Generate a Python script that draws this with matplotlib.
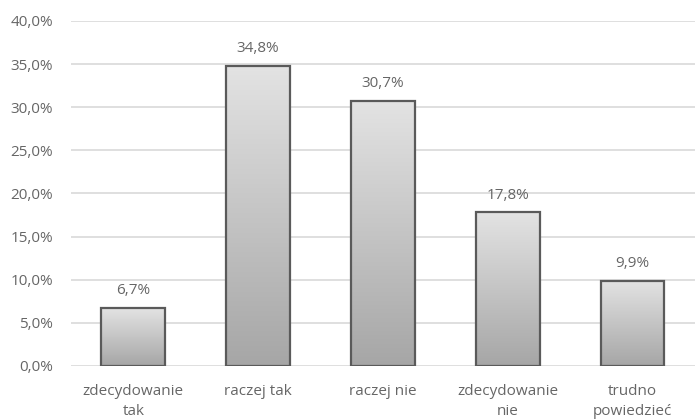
import numpy as np
import matplotlib
matplotlib.use("Agg")
import matplotlib.pyplot as plt
from matplotlib.colors import LinearSegmentedColormap

# data
categories = ["zdecydowanie\ntak", "raczej tak", "raczej nie", "zdecydowanie\nnie", "trudno\npowiedzieć"]
values = [6.7, 34.8, 30.7, 17.8, 9.9]
yticks = [0, 5, 10, 15, 20, 25, 30, 35, 40]

plt.rcParams['font.family'] = ['Open Sans', 'DejaVu Sans']
text_color = "#666666"

fig = plt.figure(figsize=(6.95, 4.19), dpi=100)
ax = fig.add_axes([0.102, 0.1265, 0.898, 0.8234])

x = np.arange(len(values))
bars = ax.bar(x, values, width=0.51, color="none", edgecolor="#5a5a5a", linewidth=1.6, zorder=3)

# vertical gradient inside each bar
cmap = LinearSegmentedColormap.from_list("g", ["#a6a6a6", "#e3e3e3"])
grad = np.linspace(0, 1, 256).reshape(-1, 1)
for b in bars:
    x0, w, h = b.get_x(), b.get_width(), b.get_height()
    im = ax.imshow(grad, cmap=cmap, aspect="auto", origin="lower",
                   extent=[x0, x0 + w, 0, h], zorder=2)
    im.set_clip_path(b)

for xi, v in zip(x, values):
    ax.annotate(f"{v:.1f}%".replace(".", ","), (xi, v), xytext=(0, 7),
                textcoords="offset points", ha="center", va="bottom",
                fontsize=11, color=text_color)

ax.set_xlim(-0.5, len(values) - 0.5)
ax.set_ylim(0, 40)
ax.set_yticks(yticks)
ax.set_yticklabels([f"{t:.1f}%".replace(".", ",") for t in yticks])
ax.set_xticks(x)
ax.set_xticklabels(categories, linespacing=1.45)
ax.tick_params(axis="both", length=0, labelsize=11, labelcolor=text_color)
ax.tick_params(axis="x", pad=13)
ax.tick_params(axis="y", pad=13)
ax.yaxis.grid(True, color="#d9d9d9", linewidth=1.2, zorder=0)
ax.set_axisbelow(True)
for s in ax.spines.values():
    s.set_visible(False)

fig.savefig("out.png", dpi=100)
